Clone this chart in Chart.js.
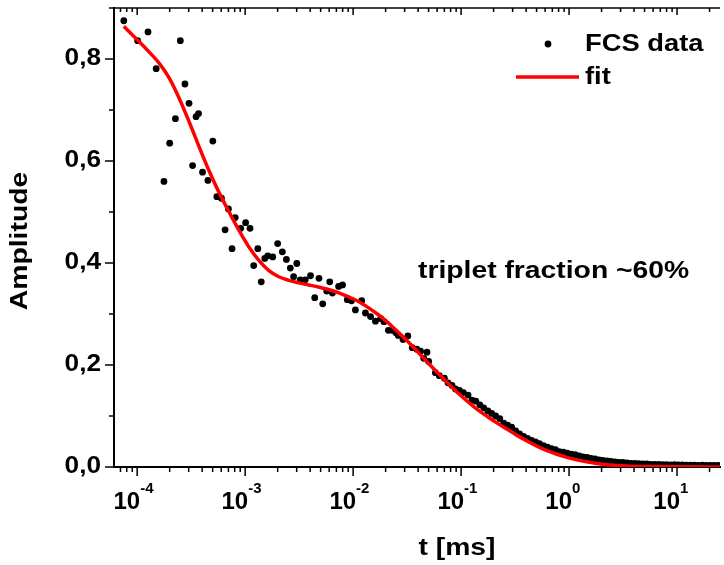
<!DOCTYPE html>
<html>
<head>
<meta charset="utf-8">
<script src="https://cdn.jsdelivr.net/npm/chart.js@4.4.1/dist/chart.umd.min.js"></script>
<style>
  html, body { margin: 0; padding: 0; background: #fff; overflow: hidden; }
  #wrap { width: 724px; height: 565px; }
</style>
</head>
<body>
<div id="wrap"><canvas id="fcsChart" width="724" height="565"></canvas></div>
<script>
// FCS data points (t in ms, amplitude)
const dataT = [
  7.52e-5, 1.01e-4, 1.26e-4, 1.50e-4, 1.77e-4, 2.00e-4, 2.26e-4, 2.51e-4, 2.77e-4, 3.02e-4,
  3.26e-4, 3.51e-4, 3.70e-4, 4.03e-4, 4.52e-4, 5.02e-4, 5.47e-4, 6.03e-4, 6.52e-4, 7.00e-4,
  7.56e-4, 8.09e-4, 9.10e-4, 1.01e-3, 1.11e-3, 1.20e-3, 1.31e-3, 1.41e-3, 1.52e-3, 1.62e-3,
  1.80e-3, 2.00e-3, 2.21e-3, 2.41e-3, 2.62e-3, 2.81e-3, 3.01e-3, 3.24e-3, 3.60e-3, 4.03e-3,
  4.41e-3, 4.83e-3, 5.23e-3, 5.69e-3, 6.07e-3, 6.43e-3, 7.34e-3, 7.98e-3, 8.83e-3, 9.66e-3,
  0.0105, 0.0120, 0.0130, 0.0145, 0.0161, 0.0180, 0.0193, 0.0212, 0.0230, 0.0249,
  0.0262, 0.0290, 0.0321, 0.0353, 0.0389, 0.0421, 0.0451, 0.0483, 0.0501, 0.0578,
  0.0629, 0.0700, 0.0757, 0.0824, 0.0888, 0.0966, 0.105, 0.116, 0.126, 0.137,
  0.149, 0.162, 0.177, 0.192, 0.209, 0.228, 0.248, 0.270, 0.294, 0.320,
  0.348, 0.379, 0.412, 0.449, 0.489, 0.532, 0.579, 0.630, 0.686, 0.747,
  0.813, 0.885, 0.963, 1.05, 1.14, 1.24, 1.35, 1.47, 1.60, 1.74,
  1.90, 2.06, 2.25, 2.44, 2.66, 2.90, 3.15, 3.43, 3.73, 4.06,
  4.42, 4.81, 5.24, 5.70, 6.21, 6.76, 7.36, 8.00, 8.71, 9.48,
  10.3, 11.2, 12.2, 13.3, 14.5, 15.8, 17.2, 18.7, 20.3, 22.1, 24.1
];
const dataAmp = [
  0.875, 0.836, 0.853, 0.781, 0.560, 0.635, 0.683, 0.836, 0.751, 0.713,
  0.591, 0.687, 0.693, 0.578, 0.562, 0.639, 0.530, 0.527, 0.465, 0.506,
  0.428, 0.489, 0.468, 0.479, 0.468, 0.395, 0.428, 0.363, 0.409, 0.414,
  0.412, 0.438, 0.422, 0.407, 0.390, 0.373, 0.399, 0.367, 0.367, 0.375,
  0.332, 0.370, 0.320, 0.345, 0.363, 0.341, 0.354, 0.357, 0.328, 0.326,
  0.308, 0.326, 0.302, 0.295, 0.286, 0.291, 0.285, 0.268, 0.268, 0.263,
  0.258, 0.250, 0.257, 0.234, 0.231, 0.227, 0.213, 0.225, 0.207, 0.185,
  0.179, 0.174, 0.165, 0.160, 0.153, 0.150, 0.146, 0.141, 0.131, 0.129,
  0.122, 0.116, 0.110, 0.105, 0.100, 0.095, 0.086, 0.082, 0.078, 0.071,
  0.065, 0.060, 0.056, 0.052, 0.049, 0.046, 0.042, 0.039, 0.036, 0.034,
  0.030, 0.029, 0.027, 0.025, 0.024, 0.022, 0.020, 0.019, 0.017, 0.016,
  0.014, 0.013, 0.012, 0.011, 0.010, 0.009, 0.009, 0.008, 0.007, 0.007,
  0.0065, 0.006, 0.006, 0.0053, 0.005, 0.0049, 0.0047, 0.0045, 0.0043, 0.0045,
  0.004, 0.004, 0.0038, 0.0038, 0.0035, 0.0033, 0.0035, 0.0033, 0.003, 0.003, 0.003
];

// fit curve
const fitT = [
  7.52e-5, 1.01e-4, 1.30e-4, 1.61e-4, 1.99e-4, 2.46e-4, 3.04e-4, 3.76e-4, 4.65e-4, 5.74e-4,
  7.10e-4, 8.77e-4, 1.08e-3, 1.34e-3, 1.66e-3, 2.05e-3, 2.53e-3, 3.13e-3, 3.86e-3, 4.77e-3,
  5.89e-3, 7.28e-3, 9.00e-3, 0.0111, 0.0137, 0.0170, 0.0210, 0.0259, 0.0321, 0.0396,
  0.0490, 0.0605, 0.0748, 0.0924, 0.114, 0.141, 0.175, 0.216, 0.267, 0.330,
  0.408, 0.504, 0.624, 0.771, 0.953, 1.18, 1.46, 1.80, 2.22, 2.75,
  3.39, 5.19, 9.80, 24.9
];
const fitAmp = [
  0.864, 0.837, 0.813, 0.791, 0.762, 0.722, 0.676, 0.627, 0.580, 0.538,
  0.500, 0.464, 0.432, 0.405, 0.385, 0.373, 0.366, 0.361, 0.357, 0.353,
  0.348, 0.342, 0.334, 0.325, 0.313, 0.299, 0.283, 0.265, 0.246, 0.226,
  0.205, 0.185, 0.165, 0.146, 0.129, 0.113, 0.099, 0.086, 0.074, 0.062,
  0.051, 0.041, 0.032, 0.025, 0.019, 0.014, 0.010, 0.007, 0.0045, 0.003,
  0.002, 0.001, 0.0004, 0.0
];

// axis ticks
const xDecades = [-4, -3, -2, -1, 0, 1];
const yTickValues = [0, 0.2, 0.4, 0.6, 0.8];
const yTickLabels = ['0,0', '0,2', '0,4', '0,6', '0,8'];

const FONT = '"Liberation Sans", Arial, sans-serif';

function drawText(ctx, s, x, y, size, align, sx, rot) {
    ctx.save();
    ctx.translate(x, y);
    if (rot) ctx.rotate(rot);
    ctx.scale(sx, 1);
    ctx.font = 'bold ' + size + 'px ' + FONT;
    ctx.textAlign = align;
    ctx.textBaseline = 'middle';
    ctx.fillStyle = '#000';
    ctx.fillText(s, 0, 0);
    ctx.restore();
}

function tick(ctx, x1, y1, x2, y2) {
    ctx.beginPath();
    ctx.moveTo(x1, y1);
    ctx.lineTo(x2, y2);
    ctx.stroke();
}

// axes decoration: ticks, labels, frame, legend, note
const axisDeco = {
    id: 'axisDeco',
    afterDraw(chart) {
        const ctx = chart.ctx;
        const a = chart.chartArea;
        const x = chart.scales.x;
        const y = chart.scales.y;
        ctx.save();
        ctx.strokeStyle = '#000';
        ctx.lineWidth = 1.5;

        // top frame
        tick(ctx, a.left, a.top, a.right, a.top);

        // x ticks (bottom outward, top inward)
        for (let d = -5; d <= 1; d++) {
            for (let m = 1; m <= 9; m++) {
                const v = m * Math.pow(10, d);
                if (v < x.min || v > x.max) continue;
                const px = x.getPixelForValue(v);
                const major = m === 1;
                tick(ctx, px, a.bottom, px, a.bottom + (major ? 9 : 5));
                tick(ctx, px, a.top, px, a.top + (major ? 7 : 4));
            }
        }
        // y ticks
        for (let i = 0; i <= 9; i++) {
            const py = y.getPixelForValue(i / 10);
            const major = i % 2 === 0;
            tick(ctx, a.left - (major ? 9 : 5), py, a.left, py);
        }

        // y labels
        yTickValues.forEach((v, i) => {
            drawText(ctx, yTickLabels[i], a.left - 13, y.getPixelForValue(v), 23, 'right', 1.14);
        });

        // x labels 10^n
        xDecades.forEach(d => {
            const px = x.getPixelForValue(Math.pow(10, d));
            drawText(ctx, '10', px + 3, a.bottom + 35, 24, 'right', 1.0);
            drawText(ctx, String(d), px + 3, a.bottom + 22, 15, 'left', 1.0);
        });

        // axis titles
        drawText(ctx, 't [ms]', 457, 548, 24, 'center', 1.18);
        drawText(ctx, 'Amplitude', 20, 241, 24, 'center', 1.18, -Math.PI / 2);

        // legend
        ctx.fillStyle = '#000';
        ctx.beginPath();
        ctx.arc(548, 44, 3.4, 0, Math.PI * 2);
        ctx.fill();
        drawText(ctx, 'FCS data', 585, 44, 24, 'left', 1.14);
        ctx.strokeStyle = '#ff0000';
        ctx.lineWidth = 3.5;
        tick(ctx, 516, 77, 579, 77);
        drawText(ctx, 'fit', 585, 77, 24, 'left', 1.14);

        // annotation
        drawText(ctx, 'triplet fraction ~60%', 418, 272, 23, 'left', 1.23);

        ctx.restore();
    }
};

const ctx = document.getElementById('fcsChart').getContext('2d');
const fcsChart = new Chart(ctx, {
    type: 'scatter',
    data: {
        datasets: [
            {
                label: 'fit',
                type: 'line',
                data: fitT.map((t, i) => ({ x: t, y: fitAmp[i] })),
                borderColor: '#ff0000',
                borderWidth: 3.5,
                pointRadius: 0,
                fill: false,
                cubicInterpolationMode: 'monotone'
            },
            {
                label: 'FCS data',
                data: dataT.map((t, i) => ({ x: t, y: dataAmp[i] })),
                backgroundColor: '#000',
                borderWidth: 0,
                pointRadius: 3.4
            }
        ]
    },
    options: {
        responsive: false,
        animation: false,
        layout: { padding: { top: 8, right: 0, left: 0, bottom: 0 } },
        plugins: {
            legend: { display: false },
            tooltip: { enabled: false }
        },
        scales: {
            x: {
                type: 'logarithmic',
                min: 6.1e-5,
                max: 25,
                grid: { display: false },
                border: { display: true, color: '#000', width: 2 },
                ticks: { display: false },
                afterFit: s => { s.height = 98; }
            },
            y: {
                type: 'linear',
                min: 0,
                max: 0.9,
                grid: { display: false },
                border: { display: true, color: '#000', width: 2 },
                ticks: { display: false },
                afterFit: s => { s.width = 114; }
            }
        }
    },
    plugins: [axisDeco]
});
</script>
</body>
</html>
